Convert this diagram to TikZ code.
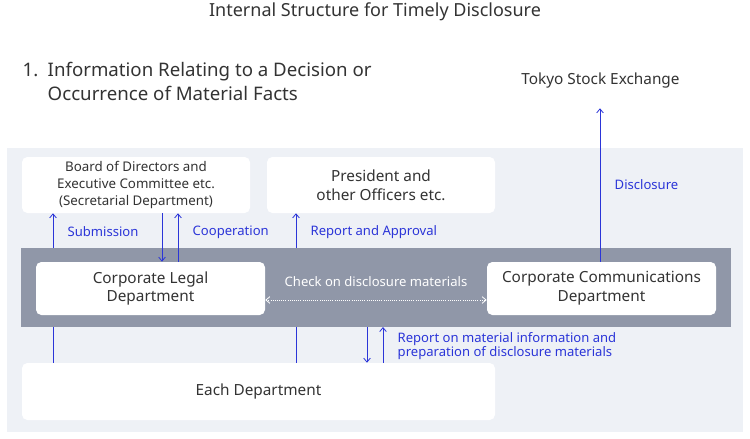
\documentclass[tikz,border=0pt]{standalone}
\usepackage{fontspec}
\setmainfont{Noto Sans}
\usetikzlibrary{positioning, arrows.meta}
\definecolor{bgpale}{HTML}{EEF1F6}
\definecolor{band}{HTML}{9097A8}
\definecolor{ink}{HTML}{333333}
\definecolor{lnblue}{HTML}{2B35D8}
\tikzset{
box/.style={fill=white, rounded corners=4pt, align=center, text=ink, font=\fontsize{11.5}{14}\selectfont},
lbl/.style={text=lnblue, font=\fontsize{9.8}{11}\selectfont, align=left},
conn/.style={draw=lnblue, line width=0.6pt},
tip/.style={-{Straight Barb[length=3pt,width=5pt]}},
}
\begin{document}
\begin{tikzpicture}[x=0.75pt, y=-0.75pt]
    \useasboundingbox (0,0) rectangle (750,439);

    % backgrounds
    \fill[bgpale] (7,148) rectangle (743,432);
    \fill[band] (21,248) rectangle (731,327);

    % headings
    \node[text=ink, font=\fontsize{13.5}{16}\selectfont] (title) at (375,12) {Internal Structure for Timely Disclosure};
    \node[text=ink, anchor=north west, align=left, font=\fontsize{14}{17.5}\selectfont] (head) at (18,58)
        {1.\enspace Information Relating to a Decision or\\\phantom{1.\enspace }Occurrence of Material Facts};

    % boxes
    \node[box, minimum width=170.25pt, minimum height=41.25pt] (tse) at (600.5,80.5) {Tokyo Stock Exchange};
    \node[box, minimum width=171pt, minimum height=42pt, font=\fontsize{10}{12.5}\selectfont] (board) at (136,185)
        {Board of Directors and\\Executive Committee etc.\\(Secretarial Department)};
    \node[box, minimum width=171pt, minimum height=42pt] (pres) at (381,185) {President and\\other Officers etc.};
    \node[box, minimum width=171.75pt, minimum height=39.75pt] (legal) at (150.5,288.5) {Corporate Legal\\Department};
    \node[box, minimum width=171.75pt, minimum height=39.75pt] (comm) at (601.5,288.5) {Corporate Communications\\Department};
    \node[box, minimum width=354.75pt, minimum height=42.75pt] (each) at (258.5,391.5) {Each Department};

    % connector ends
    \coordinate (b1) at (53,248);
    \coordinate (b2) at (53,327);
    \coordinate (b3) at (296,248);
    \coordinate (b4) at (296,327);
    \coordinate (b5) at (367,327);
    \coordinate (b6) at (383,327);
    \coordinate (dn) at (162,0);
    \coordinate (up) at (178,0);
    \coordinate (ds) at (600,0);
    \coordinate (ck) at (0,300);

    % connectors
    \draw[conn, tip] (b1) -- (b1 |- board.south);
    \draw[conn] (b2) -- (b2 |- each.north);
    \draw[conn, tip] (dn |- board.south) -- (dn |- legal.north);
    \draw[conn, tip] (up |- legal.north) -- (up |- board.south);
    \draw[conn, tip] (b3) -- (b3 |- pres.south);
    \draw[conn] (b4) -- (b4 |- each.north);
    \draw[conn, tip] (b5) -- (b5 |- each.north);
    \draw[conn, tip] (b6 |- each.north) -- (b6);
    \draw[conn, tip] (ds |- comm.north) -- (ds |- tse.south);
    \draw[white, densely dotted, line width=0.6pt, {Straight Barb[length=3pt,width=5pt]}-{Straight Barb[length=3pt,width=5pt]}]
        (legal.east |- ck) -- (comm.west |- ck);

    % labels
    \node[lbl, anchor=west] (l1) at (63,232) {Submission};
    \node[lbl, anchor=west] (l2) at (188,232) {Cooperation};
    \node[lbl, anchor=west] (l3) at (306,232) {Report and Approval};
    \node[lbl, anchor=west] (l4) at (610,185) {Disclosure};
    \node[lbl, anchor=west, font=\fontsize{9.8}{10.5}\selectfont] (l5) at (393,346)
        {Report on material information and\\preparation of disclosure materials};
    \node[text=white, font=\fontsize{9.8}{11}\selectfont] (l6) at (376,282) {Check on disclosure materials};
\end{tikzpicture}
\end{document}
